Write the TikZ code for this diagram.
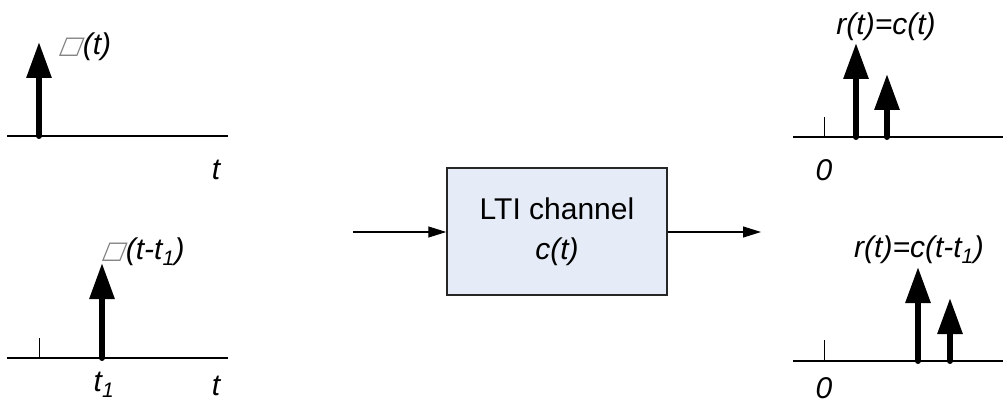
\documentclass[tikz,border=0pt]{standalone}
\usepackage{fontspec}
\setmainfont{Liberation Sans}
\newfontfamily\boxglyph[FakeSlant=0.4]{DejaVu Sans}
\usetikzlibrary{arrows.meta}
\definecolor{boxfill}{HTML}{E6ECF7}
\definecolor{boxedge}{HTML}{262626}
\newcommand{\nglyph}{{\boxglyph\color{gray}\fontsize{24}{24}\selectfont\raisebox{1pt}{□}}\kern2pt}
\newcommand{\sub}[1]{\textsubscript{#1}}
\tikzset{
  axis/.style={line width=1.3pt, draw=black},
  tick/.style={line width=1pt, draw=black},
  impulse/.style={line width=6pt, line cap=round,
    -{Triangle[length=36pt,width=24pt]}},
  sig/.style={font=\fontsize{30}{34}\selectfont\itshape, inner sep=0pt},
  flow/.style={line width=1.2pt, -{Triangle[length=18pt,width=11pt]}},
  channel/.style={draw=boxedge, line width=1.5pt, fill=boxfill,
    minimum width=220pt, minimum height=127pt, align=center,
    font=\fontsize{30}{40}\selectfont, inner sep=0pt}
}
\begin{document}
\begin{tikzpicture}[x=1pt,y=-1pt]
\useasboundingbox (0,0) rectangle (1003,403);

% ---- input: delta(t) ----
\coordinate (a1l) at (7,136);
\coordinate (a1r) at (228,136);
\draw[axis] (a1l) -- (a1r);
\coordinate (d1b) at (39,136);
\coordinate (d1t) at (39,42);
\draw[impulse] (d1b) -- (d1t);
\node[sig, anchor=west] (d1lab) at (58,47) {\nglyph(t)};
\node[sig] (t1ax) at (216,170) {t};

% ---- input: delta(t-t1) ----
\coordinate (a2l) at (7,358);
\coordinate (a2r) at (228,358);
\draw[axis] (a2l) -- (a2r);
\coordinate (k2b) at (39,358);
\coordinate (k2t) at (39,338);
\draw[tick] (k2b) -- (k2t);
\coordinate (d2b) at (102,358);
\coordinate (d2t) at (102,263);
\draw[impulse] (d2b) -- (d2t);
\node[sig, anchor=west] (d2lab) at (101,252) {\nglyph(t-t\sub{1})};
\node[sig] (t1lab) at (104,385) {t\sub{1}};
\node[sig] (t2ax) at (216,386) {t};

% ---- channel ----
\coordinate (inp) at (353,232);
\coordinate (outp) at (761,232);
\node[channel] (ch) at (557,231.5) {LTI channel\\\itshape c(t)};
\draw[flow] (inp) -- (ch.west |- inp);
\draw[flow] (ch.east |- outp) -- (outp);

% ---- output: r(t)=c(t) ----
\coordinate (b1l) at (793,137);
\coordinate (b1r) at (1003,137);
\draw[axis] (b1l) -- (b1r);
\coordinate (k3b) at (824,137);
\coordinate (k3t) at (824,117);
\draw[tick] (k3b) -- (k3t);
\coordinate (r1b) at (856,137);
\coordinate (r1t) at (856,43);
\draw[impulse] (r1b) -- (r1t);
\coordinate (s1b) at (887,137);
\coordinate (s1t) at (887,74);
\draw[impulse] (s1b) -- (s1t);
\node[sig] (r1lab) at (886,27) {r(t)=c(t)};
\node[sig] (z1) at (824,170) {0};

% ---- output: r(t)=c(t-t1) ----
\coordinate (b2l) at (793,361);
\coordinate (b2r) at (1003,361);
\draw[axis] (b2l) -- (b2r);
\coordinate (k4b) at (824,361);
\coordinate (k4t) at (824,340);
\draw[tick] (k4b) -- (k4t);
\coordinate (r2b) at (918,361);
\coordinate (r2t) at (918,267);
\draw[impulse] (r2b) -- (r2t);
\coordinate (s2b) at (950,361);
\coordinate (s2t) at (950,298);
\draw[impulse] (s2b) -- (s2t);
\node[sig] (r2lab) at (919,250) {r(t)=c(t-t\sub{1})};
\node[sig] (z2) at (824,388) {0};
\end{tikzpicture}
\end{document}
